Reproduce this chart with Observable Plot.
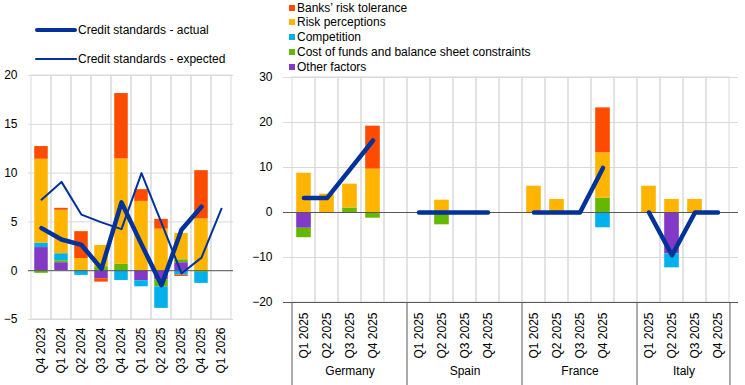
<!DOCTYPE html>
<html><head><meta charset="utf-8">
<script src="https://cdn.jsdelivr.net/npm/d3@7"></script>
<script src="https://cdn.jsdelivr.net/npm/@observablehq/plot@0.6"></script>
<style>
body{margin:0;background:#fff;font-family:"Liberation Sans",Arial,sans-serif;}
#wrap{position:relative;width:745px;height:385px;overflow:hidden;background:#fff}
#left,#right{position:absolute;top:0}
#left{left:0} #right{left:245px}
.t{position:absolute;font-size:12px;line-height:14px;color:#000;white-space:nowrap}
.ln{position:absolute;background:#003299;border-radius:2px}
.sq{position:absolute;width:6px;height:6px}
</style></head><body>
<div id="wrap">
  <div id="left"></div>
  <div id="right"></div>
  <div id="legends"></div>
</div>
<script>
// ---------- data ----------
const leftQuarters = ["Q4 2023","Q1 2024","Q2 2024","Q3 2024","Q4 2024","Q1 2025","Q2 2025","Q3 2025","Q4 2025","Q1 2026"];
const leftYTicks = [-5, 0, 5, 10, 15, 20];
// stacking order from zero outward
const factorNames = ["Other factors","Cost of funds and balance sheet constraints","Competition","Risk perceptions","Banks’ risk tolerance"];
const factorColors = ["#8139C6","#65B800","#00B1EA","#FFB400","#FF4B00"];
const legendOrder = ["Banks’ risk tolerance","Risk perceptions","Competition","Cost of funds and balance sheet constraints","Other factors"];

const leftOther       = [2.37, 0.82, 0, -0.82, 0, -1.03, -0.96, 0.82, 0, null];
const leftCost        = [-0.27, 0.2, 0, 0.41, 0.65, 0, -0.7, 0.3, -0.17, null];
const leftCompetition = [0.45, 0.72, -0.48, 0, -1.0, -0.62, -2.2, -0.45, -1.13, null];
const leftPerceptions = [8.6, 4.45, 1.25, 2.17, 10.8, 7.1, 4.26, 2.7, 5.3, null];
const leftTolerance   = [1.3, 0.2, 2.75, -0.35, 6.7, 1.2, 1.0, -0.14, 4.95, null];
const leftActual      = [4.36, 3.2, 2.64, 0.2, 7.0, 2.7, -1.48, 4.2, 6.56, null];
const leftExpected    = [7.28, 9.1, 5.74, 4.95, 4.26, 10.0, 4.9, -0.28, 1.34, 6.35];

const countries = ["Germany","Spain","France","Italy"];
const rightQuarters = ["Q1 2025","Q2 2025","Q3 2025","Q4 2025"];
const rightYTicks = [-20, -10, 0, 10, 20, 30];
// per country (Germany, Spain, France, Italy) x quarter
const rightOther       = [-3.5,0,0,0,   0,0,0,0,      0,0,0,0,        0,-9.2,0,0];
const rightCost        = [-2.1,0,1.0,-1.26, 0,-2.74,0,0, 0,0,0,3.18,   0,0,0,0];
const rightCompetition = [0,0,0,0,      0,0,0,0,      0,0,0,-3.4,     0,-3.1,0,0];
const rightPerceptions = [8.73,4.07,5.3,9.63, 0,2.73,0,0, 5.84,2.9,0,10.07, 5.84,2.9,2.9,0];
const rightTolerance   = [0,0,0,9.55,   0,0,0,0,      0,0,0,10.0,     0,0,0,0];
const rightActual      = [3.2,3.2,9.6,16, 0,0,0,0,    0,0,0,9.9,      0,-9.5,0,0];

// ---------- build tables ----------
const leftSeries = [leftOther, leftCost, leftCompetition, leftPerceptions, leftTolerance];
const leftRows = [];
leftSeries.forEach((vals, k) => vals.forEach((v, i) => { if (v != null && v !== 0) leftRows.push({q: leftQuarters[i], factor: factorNames[k], value: v}); }));
const leftLines = leftQuarters.map((q, i) => ({q, actual: leftActual[i], expected: leftExpected[i]}));

const rightSlots = [];
countries.forEach((c, ci) => { rightQuarters.forEach(q => rightSlots.push(c + "|" + q)); if (ci < countries.length - 1) rightSlots.push(c + "|"); });
const rightSeries = [rightOther, rightCost, rightCompetition, rightPerceptions, rightTolerance];
const rightRows = [];
rightSeries.forEach((vals, k) => vals.forEach((v, i) => {
  if (v != null && v !== 0) rightRows.push({slot: countries[Math.floor(i/4)] + "|" + rightQuarters[i%4], factor: factorNames[k], value: v});
}));
const rightLine = rightActual.map((v, i) => ({slot: countries[Math.floor(i/4)] + "|" + rightQuarters[i%4], country: countries[Math.floor(i/4)], v}));

const font = {fontFamily: "Liberation Sans, Arial, sans-serif", fontSize: "12px", color: "#000", background: "transparent", overflow: "visible"};
const gridC = "#d9d9d9", darkC = "#595959", lineC = "#003299";

// ---------- left chart ----------
const L = {width: 245, height: 385, mL: 28, mR: 12, mT: 75, mB: 66};
const leftPlot = Plot.plot({
  width: L.width, height: L.height, marginLeft: L.mL, marginRight: L.mR, marginTop: L.mT, marginBottom: L.mB,
  style: font,
  x: {type: "band", domain: leftQuarters, padding: 0, tickSize: 0, tickRotate: -90, tickPadding: 8, label: null},
  y: {domain: [leftYTicks[0], leftYTicks[leftYTicks.length-1]], ticks: leftYTicks, tickSize: 0, tickPadding: 11, label: null},
  color: {domain: factorNames, range: factorColors},
  marks: [
    Plot.ruleY(leftYTicks, {stroke: gridC}),
    Plot.barY(leftQuarters, {x: d => d, y1: () => leftYTicks[0], y2: () => leftYTicks[leftYTicks.length-1], fill: "none", stroke: gridC}),
    Plot.barY(leftRows, {x: "q", y: "value", fill: "factor", insetLeft: 3.25, insetRight: 3.25}),
    Plot.ruleY([0], {stroke: darkC}),
    Plot.line(leftLines, {x: "q", y: "expected", stroke: lineC, strokeWidth: 2}),
    Plot.line(leftLines, {x: "q", y: "actual", stroke: lineC, strokeWidth: 4.5, strokeLinecap: "round", strokeLinejoin: "round"})
  ]
});
document.getElementById("left").appendChild(leftPlot);

// ---------- right chart ----------
const R = {width: 500, height: 385, mL: 38, mR: 7, mT: 77, mB: 83};
const innerW = R.width - R.mL - R.mR, innerH = R.height - R.mT - R.mB;
const bw = innerW / rightSlots.length;
const rightPlot = Plot.plot({
  width: R.width, height: R.height, marginLeft: R.mL, marginRight: R.mR, marginTop: R.mT, marginBottom: R.mB,
  style: font,
  x: {type: "band", domain: rightSlots, padding: 0, tickSize: 0, tickRotate: -90, tickPadding: 10, label: null, tickFormat: d => d.split("|")[1]},
  y: {domain: [rightYTicks[0], rightYTicks[rightYTicks.length-1]], ticks: rightYTicks, tickSize: 0, tickPadding: 11, label: null},
  color: {domain: factorNames, range: factorColors},
  marks: [
    Plot.ruleY(rightYTicks, {stroke: gridC}),
    Plot.barY(rightSlots, {x: d => d, y1: () => rightYTicks[0], y2: () => rightYTicks[rightYTicks.length-1], fill: "none", stroke: gridC}),
    Plot.barY(rightRows, {x: "slot", y: "value", fill: "factor", insetLeft: 4.2, insetRight: 4.2}),
    Plot.ruleY([0], {stroke: darkC}),
    Plot.ruleY([rightYTicks[0]], {stroke: darkC}),
    Plot.line(rightLine, {x: "slot", y: "v", z: "country", stroke: lineC, strokeWidth: 4.5, strokeLinecap: "round", strokeLinejoin: "round"}),
    Plot.ruleX(countries, {x: c => c + "|" + rightQuarters[0], dx: -bw/2, stroke: darkC, insetTop: innerH, insetBottom: -R.mB}),
    Plot.ruleX(countries.slice(-1), {x: c => c + "|" + rightQuarters[3], dx: bw/2, stroke: darkC, insetTop: innerH, insetBottom: -R.mB}),
    Plot.text(countries.slice(0, 3), {x: c => c + "|" + rightQuarters[2], text: d => d, frameAnchor: "bottom", dy: 72, fill: "#000"}),
    Plot.text(countries.slice(3), {x: c => c + "|" + rightQuarters[1], text: d => d, frameAnchor: "bottom", dy: 72, dx: bw/2, fill: "#000"})
  ]
});
document.getElementById("right").appendChild(rightPlot);

// ---------- legends ----------
const lg = document.getElementById("legends");
function add(cls, style, text) {
  const d = document.createElement("div");
  d.className = cls; Object.assign(d.style, style);
  if (text) d.textContent = text;
  lg.appendChild(d);
}
const lineLegend = [["Credit standards - actual", 4, 30], ["Credit standards - expected", 2, 59]];
lineLegend.forEach(([label, w, cy]) => {
  add("ln", {left: "35px", width: "42px", top: (cy - w/2) + "px", height: w + "px"});
  add("t", {left: "78px", top: (cy - 7) + "px"}, label);
});
legendOrder.forEach((name, i) => {
  const cy = 7.5 + 14.8 * i;
  add("sq", {left: "289px", top: (cy - 3) + "px", background: factorColors[factorNames.indexOf(name)]});
  add("t", {left: "297px", top: (cy - 7) + "px"}, name);
});
</script>
</body></html>
